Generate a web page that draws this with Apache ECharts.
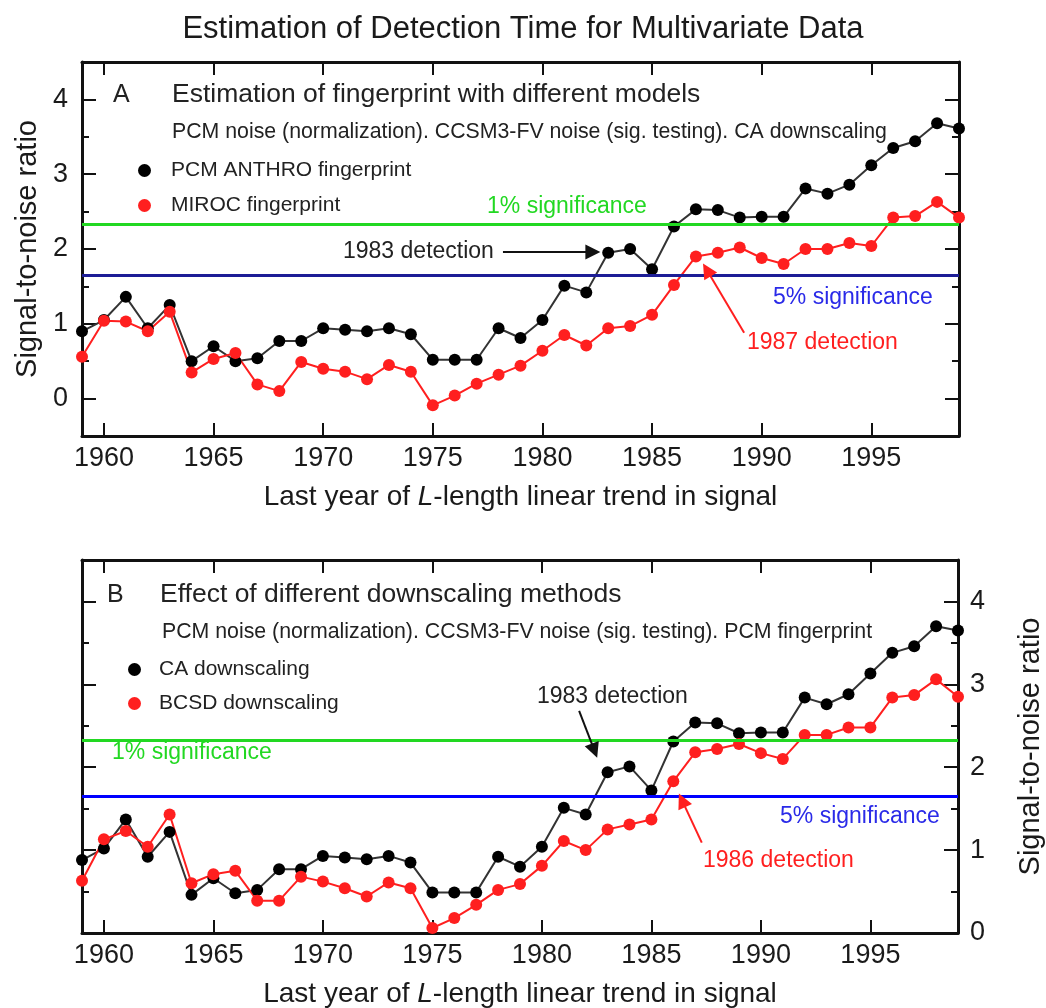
<!DOCTYPE html>
<html>
<head>
<meta charset="utf-8">
<title>Estimation of Detection Time for Multivariate Data</title>
<script src="https://cdn.jsdelivr.net/npm/echarts@6/dist/echarts.min.js"></script>
<style>
  html, body { margin: 0; padding: 0; background: #fff; }
  #chart { width: 1046px; height: 1008px; }
</style>
</head>
<body>
<div id="chart"></div>
<script>
// last year of the L-length trend
var years = [1959, 1960, 1961, 1962, 1963, 1964, 1965, 1966, 1967, 1968,
             1969, 1970, 1971, 1972, 1973, 1974, 1975, 1976, 1977, 1978,
             1979, 1980, 1981, 1982, 1983, 1984, 1985, 1986, 1987, 1988,
             1989, 1990, 1991, 1992, 1993, 1994, 1995, 1996, 1997, 1998, 1999];

// panel A : different fingerprints
var pcmAnthro = [0.90, 1.05, 1.36, 0.94, 1.25, 0.50, 0.70, 0.50, 0.54, 0.77,
                 0.77, 0.94, 0.92, 0.90, 0.94, 0.86, 0.52, 0.52, 0.52, 0.94,
                 0.81, 1.05, 1.51, 1.42, 1.95, 2.00, 1.73, 2.30, 2.53, 2.52,
                 2.42, 2.43, 2.43, 2.81, 2.74, 2.86, 3.12, 3.35, 3.44, 3.68, 3.61];
var miroc = [0.56, 1.04, 1.03, 0.90, 1.16, 0.35, 0.53, 0.61, 0.19, 0.10,
             0.49, 0.40, 0.36, 0.26, 0.45, 0.36, -0.09, 0.04, 0.20, 0.32,
             0.44, 0.64, 0.85, 0.71, 0.94, 0.97, 1.12, 1.52, 1.90, 1.95,
             2.02, 1.88, 1.80, 2.00, 2.00, 2.08, 2.04, 2.42, 2.44, 2.63, 2.42];

// panel B : different downscaling
var caDown = [0.88, 1.02, 1.37, 0.92, 1.22, 0.46, 0.66, 0.48, 0.52, 0.77,
              0.77, 0.93, 0.91, 0.89, 0.93, 0.85, 0.49, 0.49, 0.49, 0.92,
              0.80, 1.04, 1.51, 1.43, 1.94, 2.01, 1.72, 2.31, 2.54, 2.53,
              2.41, 2.42, 2.42, 2.84, 2.76, 2.88, 3.13, 3.38, 3.46, 3.70, 3.65];
var bcsdDown = [0.63, 1.13, 1.23, 1.04, 1.43, 0.60, 0.71, 0.75, 0.39, 0.39,
                0.68, 0.62, 0.54, 0.44, 0.61, 0.54, 0.06, 0.18, 0.34, 0.52,
                0.59, 0.81, 1.11, 1.00, 1.25, 1.31, 1.37, 1.83, 2.18, 2.22,
                2.28, 2.17, 2.10, 2.39, 2.39, 2.48, 2.48, 2.84, 2.87, 3.06, 2.85];

var sig1 = 2.33;   // 1% significance
var sig5 = 1.645;  // 5% significance

var yearTicks = [1960, 1965, 1970, 1975, 1980, 1985, 1990, 1995];
var majorTicks = [0, 1, 2, 3, 4];
var minorTicks = [0.5, 1.5, 2.5, 3.5];

var FONT = '"Liberation Sans", Arial, Helvetica, sans-serif';
var GREEN = '#22d822';
var RED = '#ff1f1f';

function pairs(vals) {
    return years.map(function (y, i) { return [y, vals[i]]; });
}

var xName = 'Last year of {i|L}-length linear trend in signal';
var nameStyle = {
    fontSize: 28, color: '#1a1a1a', fontFamily: FONT,
    rich: { i: { fontSize: 28, color: '#1a1a1a', fontFamily: FONT, fontStyle: 'italic' } }
};

function xAxes(g) {
    var line = { onZero: false, lineStyle: { color: '#111', width: 3 } };
    return [{
        gridIndex: g, type: 'value', position: 'bottom', min: 1959, max: 1999,
        axisLine: line,
        axisTick: { inside: true, length: 13, customValues: yearTicks, lineStyle: { color: '#111', width: 2 } },
        axisLabel: { customValues: yearTicks, fontSize: 27, margin: 9, color: '#1a1a1a', fontFamily: FONT,
                     formatter: function (v) { return String(v); } },
        splitLine: { show: false },
        name: xName, nameLocation: 'middle', nameGap: 47, nameTextStyle: nameStyle
    }, {
        gridIndex: g, type: 'value', position: 'top', min: 1959, max: 1999,
        axisLine: line,
        axisTick: { inside: true, length: 13, customValues: yearTicks, lineStyle: { color: '#111', width: 2 } },
        axisLabel: { show: false },
        splitLine: { show: false }
    }];
}

// one axis for the long ticks (and labels), one for the short ones
function yAxes(g, min, side, labels, name) {
    var major = {
        gridIndex: g, type: 'value', position: side, min: min, max: 4.5,
        axisLine: { onZero: false, lineStyle: { color: '#111', width: 3 } },
        axisTick: { inside: true, length: 14, customValues: majorTicks, lineStyle: { color: '#111', width: 2 } },
        axisLabel: { show: labels, customValues: majorTicks, fontSize: 27, margin: side === 'left' ? 14 : 12,
                     color: '#1a1a1a', fontFamily: FONT },
        splitLine: { show: false }
    };
    if (name) {
        major.name = name;
        major.nameLocation = 'middle';
        major.nameRotate = 90;
        major.nameGap = side === 'left' ? 38 : 58;
        major.nameTextStyle = { fontSize: 29, color: '#1a1a1a', fontFamily: FONT };
    }
    var minor = {
        gridIndex: g, type: 'value', position: side, min: min, max: 4.5,
        axisLine: { show: false, onZero: false },
        axisTick: { inside: true, length: 7, customValues: minorTicks, lineStyle: { color: '#111', width: 2 } },
        axisLabel: { show: false },
        splitLine: { show: false }
    };
    return [major, minor];
}

function sigLines(blue) {
    return {
        silent: true, symbol: 'none', label: { show: false },
        data: [
            { yAxis: sig1, lineStyle: { color: GREEN, width: 3, type: 'solid' } },
            { yAxis: sig5, lineStyle: { color: blue, width: 3, type: 'solid' } }
        ]
    };
}

function arrow(from, to, color) {
    return {
        silent: true, symbol: ['none', 'triangle'], symbolSize: 15, label: { show: false },
        lineStyle: { color: color, width: 2, type: 'solid' },
        data: [[{ coord: from }, { coord: to }]]
    };
}

function lineSeries(name, vals, g, color, lineColor, extra) {
    var s = {
        name: name, type: 'line', xAxisIndex: g * 2, yAxisIndex: g * 4,
        data: pairs(vals), clip: false,
        symbol: 'circle', symbolSize: 12, showSymbol: true,
        itemStyle: { color: color },
        lineStyle: { color: lineColor, width: 2 },
        emphasis: { disabled: true },
        animation: false
    };
    if (extra) s.markLine = extra;
    return s;
}

function txt(x, y, text, size, color) {
    return {
        type: 'text', x: x, y: y, silent: true,
        style: { text: text, fill: color || '#222', font: size + 'px ' + FONT,
                 textAlign: 'left', textVerticalAlign: 'middle' }
    };
}

var myChart = echarts.init(document.getElementById('chart'));

var yA = yAxes(0, -0.5, 'left', true, 'Signal-to-noise ratio').concat(yAxes(0, -0.5, 'right', false));
var yB = yAxes(1, 0, 'left', false).concat(yAxes(1, 0, 'right', true, 'Signal-to-noise ratio'));

var option = {
    backgroundColor: '#fff',
    animation: false,
    title: {
        text: 'Estimation of Detection Time for Multivariate Data',
        left: 'center', top: 9,
        textStyle: { fontSize: 31, fontWeight: 'normal', color: '#1a1a1a', fontFamily: FONT }
    },
    grid: [
        { left: 82, right: 87, top: 62, height: 374, outerBoundsMode: 'none', containLabel: false },
        { left: 82, right: 88, top: 560, height: 373, outerBoundsMode: 'none', containLabel: false }
    ],
    xAxis: xAxes(0).concat(xAxes(1)),
    yAxis: yA.concat(yB),
    legend: [{
        data: ['PCM ANTHRO fingerprint', 'MIROC fingerprint'],
        orient: 'vertical', left: 133, top: 155, icon: 'circle',
        itemWidth: 13, itemHeight: 13, itemGap: 14, selectedMode: false,
        textStyle: { fontSize: 21, lineHeight: 20, color: '#222', fontFamily: FONT, padding: [0, 0, 0, 15] }
    }, {
        data: ['CA downscaling', 'BCSD downscaling'],
        orient: 'vertical', left: 123, top: 654, icon: 'circle',
        itemWidth: 13, itemHeight: 13, itemGap: 13, selectedMode: false,
        textStyle: { fontSize: 21, lineHeight: 20, color: '#222', fontFamily: FONT, padding: [0, 0, 0, 13] }
    }],
    series: [
        lineSeries('PCM ANTHRO fingerprint', pcmAnthro, 0, '#000', '#333', sigLines('#1d1d96')),
        lineSeries('MIROC fingerprint', miroc, 0, RED, RED, null),
        lineSeries('CA downscaling', caDown, 1, '#000', '#333', sigLines('#0000ff')),
        lineSeries('BCSD downscaling', bcsdDown, 1, RED, RED, null),
        // detection arrows
        { type: 'line', xAxisIndex: 0, yAxisIndex: 0, data: [], silent: true,
          markLine: arrow([1978.2, 1.96], [1982.3, 1.96], '#111') },
        { type: 'line', xAxisIndex: 0, yAxisIndex: 0, data: [], silent: true,
          markLine: arrow([1989.2, 0.88], [1987.5, 1.72], RED) },
        { type: 'line', xAxisIndex: 2, yAxisIndex: 4, data: [], silent: true,
          markLine: arrow([1981.7, 2.68], [1982.4, 2.2], '#111') },
        { type: 'line', xAxisIndex: 2, yAxisIndex: 4, data: [], silent: true,
          markLine: arrow([1987.3, 1.09], [1986.4, 1.6], RED) }
    ],
    graphic: [
        txt(113, 95, 'A', 25),
        txt(172, 95, 'Estimation of fingerprint with different models', 26.5),
        txt(172, 132, 'PCM noise (normalization). CCSM3-FV noise (sig. testing). CA downscaling', 21.3),
        txt(487, 207, '1% significance', 23, GREEN),
        txt(343, 252, '1983 detection', 23, '#222'),
        txt(773, 298, '5% significance', 23, '#2a2ae8'),
        txt(747, 343, '1987 detection', 23, RED),

        txt(107, 595, 'B', 25),
        txt(160, 595, 'Effect of different downscaling methods', 26.5),
        txt(162, 632, 'PCM noise (normalization). CCSM3-FV noise (sig. testing). PCM fingerprint', 21.3),
        txt(112, 753, '1% significance', 23, GREEN),
        txt(537, 697, '1983 detection', 23, '#222'),
        txt(780, 817, '5% significance', 23, '#2a2ae8'),
        txt(703, 861, '1986 detection', 23, RED)
    ]
};

myChart.setOption(option);
</script>
</body>
</html>
